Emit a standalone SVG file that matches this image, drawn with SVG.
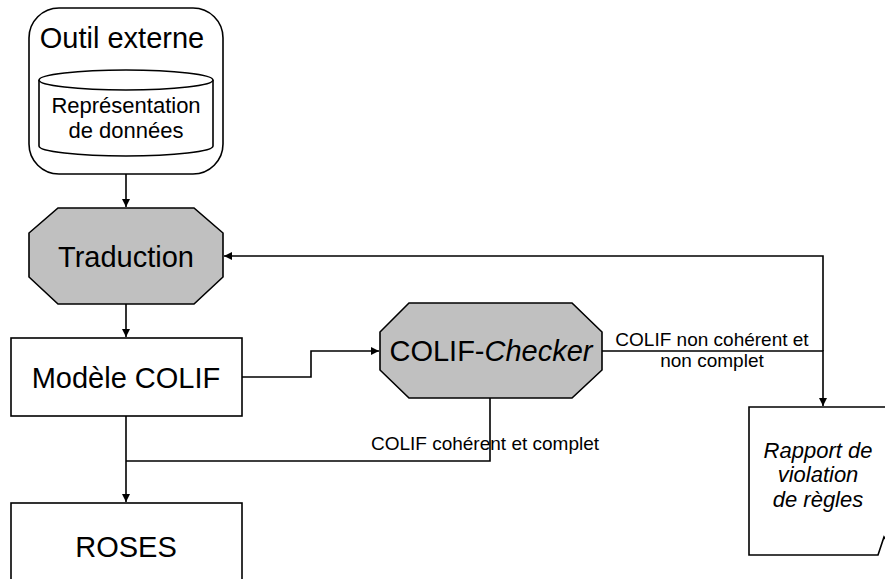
<svg xmlns="http://www.w3.org/2000/svg" width="885" height="579" viewBox="0 0 885 579">
<defs>
<style>
.s{fill:none;stroke:#000;stroke-width:1.6}
.w{fill:#fff;stroke:#000;stroke-width:1.6}
.g{fill:#c0c0c0;stroke:#000;stroke-width:1.6}
.c{fill:none;stroke:#000;stroke-width:1.6}
text{font-family:"Liberation Sans",Arial,sans-serif;fill:#000;text-anchor:middle}
.big{font-size:29px}
.mid{font-size:22px}
.lab{font-size:19px}
.it{font-style:italic}
</style>
<marker id="ah" viewBox="0 0 10 10" refX="10" refY="5" markerWidth="8" markerHeight="8" markerUnits="userSpaceOnUse" orient="auto">
<path d="M0,0 L10,5 L0,10 Z" fill="#000"/>
</marker>
</defs>
<rect width="885" height="579" fill="#fff"/>
<g id="connectors">
<path class="c" d="M126,156 V207" marker-end="url(#ah)"/>
<path class="c" d="M126,304 V337" marker-end="url(#ah)"/>
<path class="c" d="M242,377 H311 V351 H379" marker-end="url(#ah)"/>
<path class="c" d="M126,416 V502" marker-end="url(#ah)"/>
<path class="c" d="M490,398 V461 H126"/>
<path class="c" d="M602,351 H823 V406" marker-end="url(#ah)"/>
<path class="c" d="M823,351 V256 H224" marker-end="url(#ah)"/>
</g>
<g id="outil">
<rect class="w" x="29" y="8" width="194" height="166" rx="30"/>
<text class="big" x="122" y="48">Outil externe</text>
<g id="representation">
<path class="w" d="M39,80 V146 A87,10 0 0 0 213,146 V80"/>
<ellipse class="w" cx="126" cy="80" rx="87" ry="10"/>
<text class="mid" x="126" y="113">Représentation</text>
<text class="mid" x="126" y="138">de données</text>
</g>
</g>
<g id="traduction">
<polygon class="g" points="58,208 194,208 223,233 223,277 194,304 58,304 29,277 29,233"/>
<text class="big" x="126" y="267">Traduction</text>
</g>
<g id="modele">
<rect class="w" x="11" y="338" width="231" height="78"/>
<text class="big" x="126" y="388">Modèle COLIF</text>
</g>
<g id="roses">
<rect class="w" x="11" y="503" width="231" height="100"/>
<text class="big" x="126" y="557">ROSES</text>
</g>
<g id="checker">
<polygon class="g" points="409,303 572,303 602,332 602,370 572,398 409,398 380,370 380,332"/>
<text class="big" x="491" y="361">COLIF-<tspan class="it">Checker</tspan></text>
</g>
<g id="rapport">
<path class="w" d="M892,407 H749 V555 H878 L884,537 L887,541"/>
<text class="mid it" x="818" y="458">Rapport de</text>
<text class="mid it" x="818" y="482">violation</text>
<text class="mid it" x="818" y="507">de règles</text>
</g>
<g id="labels">
<text class="lab" x="485" y="450">COLIF cohérent et complet</text>
<text class="lab" x="712" y="346">COLIF non cohérent et</text>
<text class="lab" x="712" y="367">non complet</text>
</g>
</svg>
